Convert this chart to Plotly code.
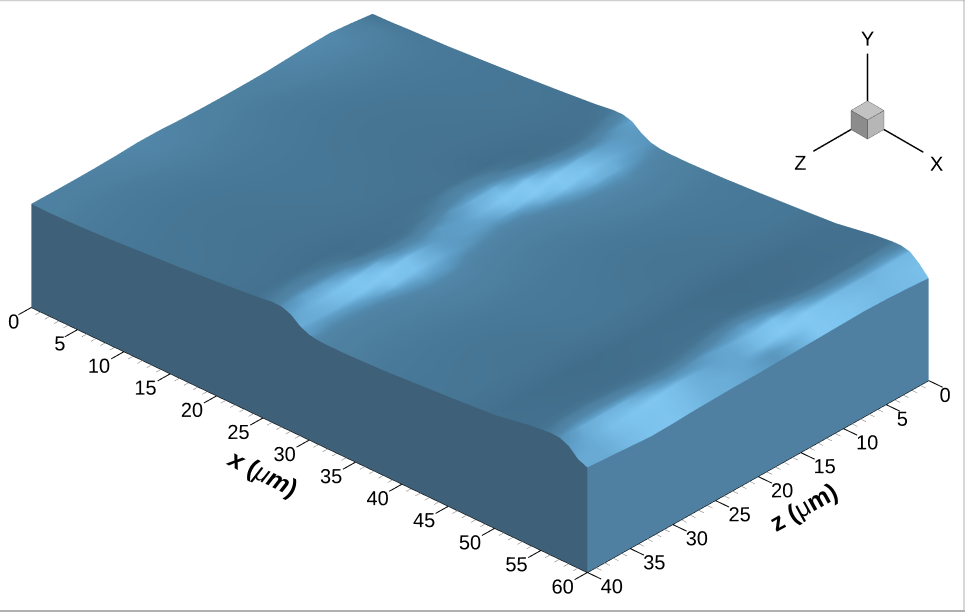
import numpy as np
import plotly.graph_objects as go

# surface height Y (um), one row per z value, one column per x value
x_vals = [0, 2, 4, 8, 12, 16, 20, 24, 26, 27, 28, 29, 30, 31, 32, 34, 38, 42, 46, 50, 54, 55, 56, 57, 58, 59, 60]
z_vals = [40, 37.5, 35, 32.5, 30, 27.5, 25, 22.5, 20, 17.5, 15, 12.5, 10, 7.5, 5, 2.5, 0]
heights = [
    [9.62, 9.58, 9.62, 9.78, 10.04, 10.29, 10.60, 10.94, 11.18, 11.15, 10.83, 10.15, 9.76, 9.62, 9.59, 9.59, 9.73, 9.98, 10.23, 10.52, 11.14, 11.24, 11.33, 11.29, 10.91, 10.10, 9.74],
    [9.60, 9.59, 9.64, 9.81, 10.06, 10.33, 10.63, 10.98, 11.20, 11.10, 10.55, 9.95, 9.68, 9.60, 9.58, 9.60, 9.75, 10.00, 10.25, 10.55, 11.19, 11.29, 11.34, 11.17, 10.50, 9.85, 9.60],
    [9.60, 9.59, 9.64, 9.81, 10.06, 10.33, 10.63, 10.98, 11.20, 11.10, 10.55, 9.95, 9.68, 9.60, 9.58, 9.60, 9.75, 10.00, 10.25, 10.55, 11.20, 11.30, 11.33, 11.13, 10.44, 9.83, 9.45],
    [9.62, 9.58, 9.63, 9.79, 10.04, 10.30, 10.60, 10.95, 11.18, 11.14, 10.76, 10.10, 9.74, 9.62, 9.59, 9.60, 9.74, 9.98, 10.24, 10.53, 11.18, 11.28, 11.34, 11.21, 10.58, 9.90, 9.30],
    [9.68, 9.58, 9.60, 9.75, 10.00, 10.25, 10.55, 10.88, 11.12, 11.20, 11.10, 10.55, 9.95, 9.68, 9.60, 9.59, 9.71, 9.94, 10.19, 10.48, 11.15, 11.25, 11.34, 11.29, 10.84, 10.05, 9.35],
    [9.78, 9.59, 9.59, 9.73, 9.97, 10.22, 10.51, 10.84, 11.07, 11.17, 11.17, 10.90, 10.20, 9.78, 9.63, 9.58, 9.70, 9.91, 10.15, 10.44, 11.12, 11.22, 11.32, 11.32, 11.05, 10.30, 9.45],
    [9.76, 9.59, 9.59, 9.73, 9.97, 10.22, 10.51, 10.84, 11.07, 11.17, 11.17, 10.90, 10.20, 9.78, 9.63, 9.58, 9.70, 9.91, 10.15, 10.44, 11.13, 11.23, 11.33, 11.31, 10.98, 10.20, 9.50],
    [9.66, 9.58, 9.61, 9.76, 10.01, 10.27, 10.57, 10.90, 11.14, 11.19, 11.02, 10.41, 9.85, 9.66, 9.60, 9.59, 9.72, 9.95, 10.20, 10.49, 11.17, 11.27, 11.35, 11.25, 10.65, 9.95, 9.55],
    [9.61, 9.59, 9.64, 9.80, 10.05, 10.32, 10.62, 10.97, 11.19, 11.12, 10.62, 10.00, 9.70, 9.61, 9.58, 9.60, 9.75, 9.99, 10.24, 10.54, 11.22, 11.32, 11.32, 11.05, 10.30, 9.80, 9.55],
    [9.59, 9.59, 9.66, 9.83, 10.08, 10.36, 10.66, 11.02, 11.18, 10.94, 10.27, 9.81, 9.64, 9.59, 9.58, 9.62, 9.77, 10.02, 10.28, 10.58, 11.25, 11.34, 11.29, 10.84, 10.05, 9.72, 9.60],
    [9.60, 9.59, 9.65, 9.82, 10.07, 10.34, 10.64, 11.00, 11.19, 11.02, 10.41, 9.85, 9.66, 9.60, 9.58, 9.61, 9.76, 10.01, 10.27, 10.57, 11.22, 11.32, 11.32, 11.05, 10.30, 9.78, 9.65],
    [9.63, 9.58, 9.62, 9.78, 10.03, 10.29, 10.59, 10.93, 11.17, 11.17, 10.90, 10.20, 9.78, 9.63, 9.59, 9.59, 9.73, 9.97, 10.22, 10.51, 11.15, 11.25, 11.34, 11.29, 10.84, 10.05, 9.70],
    [9.74, 9.59, 9.60, 9.74, 9.98, 10.24, 10.53, 10.86, 11.09, 11.18, 11.14, 10.76, 10.10, 9.74, 9.62, 9.58, 9.70, 9.92, 10.17, 10.45, 11.09, 11.19, 11.29, 11.34, 11.05, 10.35, 9.75],
    [9.85, 9.60, 9.59, 9.72, 9.95, 10.20, 10.49, 10.81, 11.04, 11.14, 11.19, 11.02, 10.41, 9.85, 9.66, 9.58, 9.69, 9.89, 10.13, 10.42, 11.06, 11.16, 11.26, 11.34, 11.10, 10.40, 9.80],
    [9.90, 9.60, 9.59, 9.71, 9.94, 10.20, 10.48, 10.80, 11.03, 11.13, 11.19, 11.06, 10.48, 9.90, 9.67, 9.58, 9.68, 9.88, 10.13, 10.41, 11.05, 11.15, 11.25, 11.34, 11.10, 10.45, 9.75],
    [9.70, 9.59, 9.60, 9.74, 9.98, 10.24, 10.53, 10.86, 11.09, 11.18, 11.14, 10.76, 10.10, 9.74, 9.62, 9.58, 9.70, 9.92, 10.17, 10.45, 11.07, 11.17, 11.27, 11.35, 11.05, 10.30, 9.65],
    [9.45, 9.50, 9.61, 9.77, 10.02, 10.28, 10.58, 10.92, 11.16, 11.18, 10.94, 10.27, 9.81, 9.64, 9.59, 9.59, 9.73, 9.96, 10.22, 10.50, 11.10, 11.20, 11.30, 11.33, 11.13, 10.44, 9.50],
]

x_labels = [0, 5, 10, 15, 20, 25, 30, 35, 40, 45, 50, 55, 60]
z_labels = [0, 5, 10, 15, 20, 25, 30, 35, 40]

FRONT_COLOR = "#3e6179"
SIDE_COLOR = "#4f80a2"
FLAT = dict(ambient=1.0, diffuse=0.0, specular=0.0, fresnel=0.0)
# ombrage du dessus : le lighting de gl-surface ne donne pas le reflet voulu, on passe par surfacecolor
SHADE_COLORS = [[0, "#416d8a"], [0.154, "#477796"], [0.27, "#4e80a0"], [0.5, "#5288ab"], [0.73, "#5f9fc8"], [0.92, "#7cc3ee"], [1, "#86ccf5"]]
HALF_VECTOR = np.array([0.65, -0.3, 1.0])


def flat_wall(xs, ys, tops, color):
    """Mur vertical de la tranche, couleur unie sans eclairage"""
    n = len(tops)
    return go.Surface(x=[xs, xs], y=[ys, ys], z=[[0] * n, tops], scene="scene",
                      colorscale=[[0, color], [1, color]], showscale=False, hoverinfo="skip", lighting=FLAT)


def segments(starts, ends):
    """Liste x/y/z de segments separes par None"""
    out = [[], [], []]
    for a, b in zip(starts, ends):
        for i in range(3):
            out[i] += [a[i], b[i], None]
    return out


def add_lines(fig, starts, ends, width, color="black", scene="scene"):
    sx, sy, sz = segments(starts, ends)
    fig.add_trace(go.Scatter3d(x=sx, y=sy, z=sz, mode="lines", line=dict(color=color, width=width),
                               scene=scene, hoverinfo="skip", showlegend=False))


def add_text(fig, xs, ys, zs, labels, scene="scene"):
    fig.add_trace(go.Scatter3d(x=xs, y=ys, z=zs, mode="text", text=labels,
                               textfont=dict(family="Liberation Sans", size=20, color="black"),
                               textposition="middle center", scene=scene, hoverinfo="skip", showlegend=False))


y_vals = [-z for z in z_vals]  # z du graphique vers le spectateur

# pente de la surface -> ombrage
slope_y, slope_x = np.gradient(np.array(heights), y_vals, x_vals)
norm = np.sqrt(slope_x ** 2 + slope_y ** 2 + 1) * np.linalg.norm(HALF_VECTOR)
shade = (-slope_x * HALF_VECTOR[0] - slope_y * HALF_VECTOR[1] + HALF_VECTOR[2]) / norm
shade[:, -1] = shade[:, -2]  # pas de liseré sur le bord x=60

fig = go.Figure()
fig.add_trace(go.Surface(x=x_vals, y=y_vals, z=heights, surfacecolor=shade, cmin=0.74, cmax=1.0, scene="scene",
                         colorscale=SHADE_COLORS, showscale=False, hoverinfo="skip", lighting=FLAT))
fig.add_trace(flat_wall(x_vals, [y_vals[0]] * len(x_vals), heights[0], FRONT_COLOR))
fig.add_trace(flat_wall([x_vals[-1]] * len(y_vals), y_vals, [row[-1] for row in heights], SIDE_COLOR))

# axes : ligne de base, graduations et etiquettes
add_lines(fig, [(0, -40, 0), (60, -40, 0)], [(60, -40, 0), (60, 0, 0)], 2)
add_lines(fig, [(v, -40, 0) for v in range(0, 61) if v % 5], [(v, -40.6, 0) for v in range(0, 61) if v % 5], 1, "#777777")
add_lines(fig, [(60, -v, 0) for v in range(0, 41) if v % 5], [(60.6, -v, 0) for v in range(0, 41) if v % 5], 1, "#777777")
add_lines(fig, [(v, -40, 0) for v in x_labels], [(v, -41.5, 0) for v in x_labels], 2)
add_lines(fig, [(60, -v, 0) for v in z_labels], [(61.5, -v, 0) for v in z_labels], 2)

add_text(fig, x_labels, [-42.1 if v < 10 else -42.9 for v in x_labels], [-0.35 if v < 10 else 0 for v in x_labels],
         [str(v) for v in x_labels])
add_text(fig, [61.75 if v < 10 else 62.6 for v in z_labels], [-v for v in z_labels], [-0.6 if v < 10 else -0.2 for v in z_labels],
         [str(v) for v in z_labels])

# triedre en haut a droite
cube_x = [0, 1, 1, 0, 0, 1, 1, 0]
cube_y = [0, 0, 1, 1, 0, 0, 1, 1]
cube_z = [0, 0, 0, 0, 1, 1, 1, 1]
cube_i = [4, 4, 1, 1, 0, 0]
cube_j = [5, 6, 2, 6, 1, 5]
cube_k = [6, 7, 6, 5, 5, 4]
cube_colors = ["#c2c2c2", "#c2c2c2", "#b6b6b6", "#b6b6b6", "#8c8c8c", "#8c8c8c"]
fig.add_trace(go.Mesh3d(x=cube_x, y=cube_y, z=cube_z, i=cube_i, j=cube_j, k=cube_k, facecolor=cube_colors,
                        flatshading=True, lighting=FLAT, scene="scene2", hoverinfo="skip"))
add_lines(fig, [(0, 0, 1), (1, 0, 1), (1, 1, 1), (0, 1, 1), (1, 0, 0), (0, 0, 0), (0, 0, 0), (1, 0, 0), (1, 1, 0)],
          [(1, 0, 1), (1, 1, 1), (0, 1, 1), (0, 0, 1), (1, 1, 0), (1, 0, 0), (0, 0, 1), (1, 0, 1), (1, 1, 1)],
          1, "#333333", "scene2")
add_lines(fig, [(0, 1, 1), (1, 1, 0), (0, 0, 0)], [(0, 1, 3.5), (3.4, 1, 0), (0, -2.3, 0)], 3, "black", "scene2")
add_text(fig, [0, 4.2, 0], [1, 1, -3.1], [4.3, -0.2, -0.2], ["Y", "X", "Z"], "scene2")

hidden = dict(visible=False)
ZOOM = 2.964
fig.update_layout(
    width=965, height=612, margin=dict(l=0, r=0, t=0, b=0), paper_bgcolor="white", showlegend=False,
    scene=dict(domain=dict(x=[0, 1], y=[0, 1]), aspectmode="manual",
               aspectratio=dict(x=ZOOM, y=ZOOM * 52 / 72, z=ZOOM * 16 / 72),
               xaxis=dict(range=[-5.73, 66.27], **hidden), yaxis=dict(range=[-46, 6], **hidden), zaxis=dict(range=[-4.36, 11.64], **hidden),
               camera=dict(projection=dict(type="orthographic"), eye=dict(x=5.8, y=-6.3, z=5.18),
                           center=dict(x=0, y=0, z=0), up=dict(x=0, y=0, z=1))),
    scene2=dict(domain=dict(x=[0.80, 0.998], y=[0.649, 0.959]), aspectmode="manual", aspectratio=dict(x=2.2, y=2.2, z=2.2),
                xaxis=dict(range=[-4, 5], **hidden), yaxis=dict(range=[-4, 5], **hidden), zaxis=dict(range=[-4, 5], **hidden),
                camera=dict(projection=dict(type="orthographic"), eye=dict(x=5.78, y=-5.78, z=5.78))),
    annotations=[
        dict(text="<b><i>x</i> (</b><i>μ</i><b><i>m</i>)</b>", xref="paper", yref="paper", x=262 / 965, y=1 - 472 / 612, textangle=27,
             xanchor="center", yanchor="middle", showarrow=False, font=dict(family="Liberation Sans", size=25, color="black")),
        dict(text="<b>z (</b>μ<b>m)</b>", xref="paper", yref="paper", x=803 / 965, y=1 - 507 / 612, textangle=-29,
             xanchor="center", yanchor="middle", showarrow=False, font=dict(family="Liberation Sans", size=25, color="black")),
    ],
    shapes=[
        dict(type="line", xref="paper", yref="paper", x0=0, x1=1, y0=0.9995, y1=0.9995, line=dict(color="#d0d0d0", width=2)),
        dict(type="line", xref="paper", yref="paper", x0=964 / 965, x1=964 / 965, y0=0, y1=1, line=dict(color="#b0b0b0", width=1)),
        dict(type="line", xref="paper", yref="paper", x0=0, x1=1, y0=1 / 612, y1=1 / 612, line=dict(color="#b0b0b0", width=2)),
    ],
)
fig.write_html("out.html", config={"displayModeBar": False},
               post_script="document.body.style.margin='0';Plotly.relayout(document.getElementById('{plot_id}'),{width:965,height:612});")
